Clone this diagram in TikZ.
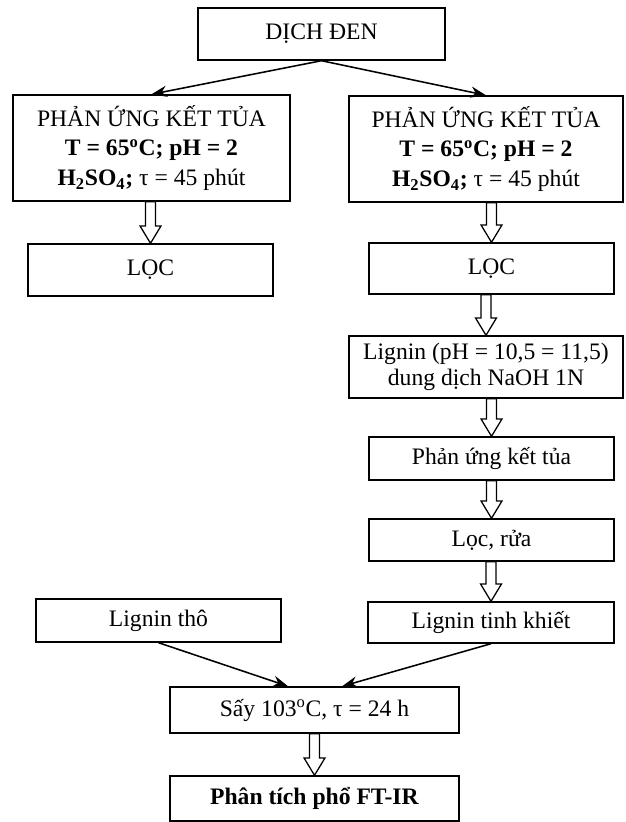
\documentclass[tikz,border=0pt]{standalone}
\usepackage{fontspec}
\setmainfont{Liberation Serif}
\usetikzlibrary{arrows.meta, calc}

\tikzset{
    box/.style={draw, line width=1pt, align=center, inner sep=1pt,
        font=\fontsize{16.8}{21.3}\selectfont},
    linkarrow/.style={line width=1.1pt, -{Stealth[length=11pt, width=8pt]}},
    fatarrow/.style={draw, fill=white, line width=0.9pt,
        to path={let \p1=(\tikztostart), \p2=(\tikztotarget) in
            (\x2-0.125cm,\y1) -- (\x2-0.125cm,\y2+0.43cm) -- (\x2-0.26cm,\y2+0.43cm)
            -- (\x2,\y2) -- (\x2+0.26cm,\y2+0.43cm) -- (\x2+0.125cm,\y2+0.43cm)
            -- (\x2+0.125cm,\y1) -- cycle}}
}

\begin{document}
\begin{tikzpicture}[x=0.025cm, y=-0.025cm]
        \useasboundingbox (0,0) rectangle (625,822);

        \node[box, minimum width=6.175cm, minimum height=1.3cm] (dich) at (321.5, 34) {DỊCH ĐEN};
        \node[box, minimum width=6.925cm, minimum height=2.65cm] (pu1) at (151.5, 148)
            {PHẢN ỨNG KẾT TỦA\\ \textbf{T = 65\textsuperscript{o}C; pH = 2}\\ \textbf{H\textsubscript{2}SO\textsubscript{4};} τ = 45 phút};
        \node[box, minimum width=6.85cm, minimum height=2.65cm] (pu2) at (486, 149)
            {PHẢN ỨNG KẾT TỦA\\ \textbf{T = 65\textsuperscript{o}C; pH = 2}\\ \textbf{H\textsubscript{2}SO\textsubscript{4};} τ = 45 phút};
        \node[box, minimum width=6.125cm, minimum height=1.3cm] (loc1) at (150.5, 270) {LỌC};
        \node[box, minimum width=6.125cm, minimum height=1.275cm] (loc2) at (491.5, 268.5) {LỌC};
        \node[box, minimum width=6.85cm, minimum height=1.55cm, font=\fontsize{16.8}{18.8}\selectfont] (lig) at (486, 367)
            {Lignin (pH = 10,5 = 11,5)\\ dung dịch NaOH 1N};
        \node[box, minimum width=6.125cm, minimum height=1.075cm] (pukt) at (491.5, 458.5) {Phản ứng kết tủa};
        \node[box, minimum width=6.125cm, minimum height=1.05cm] (locrua) at (491.5, 540) {Lọc, rửa};
        \node[box, minimum width=6.15cm, minimum height=1.025cm] (ligtk) at (491, 622.5) {Lignin tinh khiết};
        \node[box, minimum width=6.125cm, minimum height=1.075cm] (ligtho) at (158.5, 620.5) {Lignin thô};
        \node[box, minimum width=7.225cm, minimum height=1.15cm] (say) at (314.5, 710) {Sấy 103\textsuperscript{o}C, τ = 24 h};
        \node[box, minimum width=7.225cm, minimum height=1.125cm] (ftir) at (314.5, 798.5) {\textbf{Phân tích phổ FT-IR}};

        \draw[linkarrow] (dich.south) to (pu1.north);
        \draw[linkarrow] (dich.south) to (pu2.north);
        \draw[linkarrow] (ligtho.south) to ([xshift=-0.66cm]say.north);
        \draw[linkarrow] (ligtk.south) to ([xshift=0.69cm]say.north);

        \draw[fatarrow] (pu1.south) to (loc1.north);
        \draw[fatarrow] (pu2.south) to (loc2.north);
        \draw[fatarrow] (loc2.south) to (lig.north);
        \draw[fatarrow] (lig.south) to (pukt.north);
        \draw[fatarrow] (pukt.south) to (locrua.north);
        \draw[fatarrow] (locrua.south) to (ligtk.north);
        \draw[fatarrow] (say.south) to (ftir.north);
\end{tikzpicture}
\end{document}
